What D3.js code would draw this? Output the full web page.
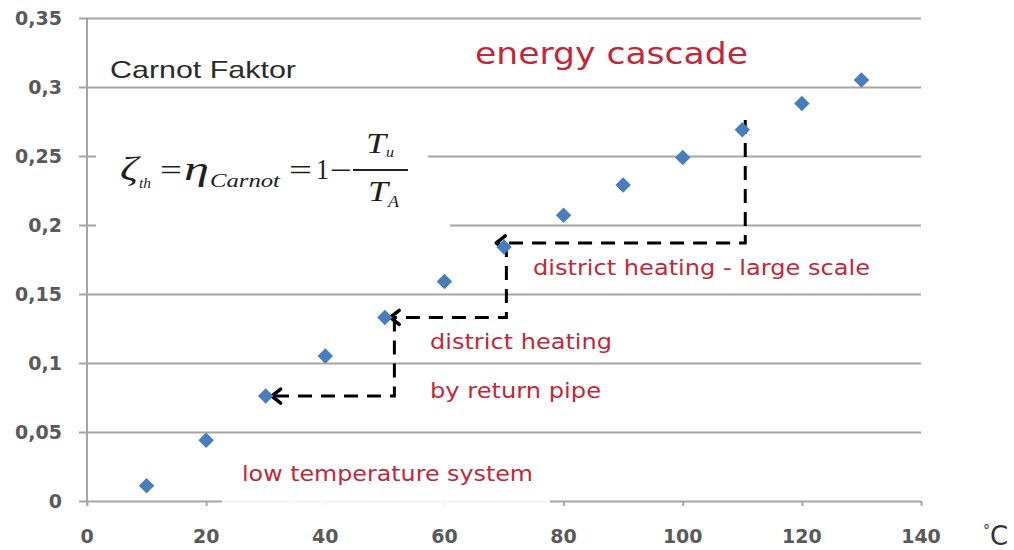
<!DOCTYPE html>
<html>
<head>
<meta charset="utf-8">
<script src="https://cdn.jsdelivr.net/npm/d3@7/dist/d3.min.js"></script>
<style>
  body { margin: 0; background: #fff; }
  svg { display: block; }
</style>
</head>
<body>
<div id="app"></div>
<script>
// ---- data ----
const temps  = [10, 20, 30, 40, 50, 60, 70, 80, 90, 100, 110, 120, 130];
const carnot = [0.011, 0.044, 0.076, 0.105, 0.133, 0.159, 0.184, 0.207, 0.229, 0.249, 0.269, 0.288, 0.305];

const xTicks = [0, 20, 40, 60, 80, 100, 120, 140];
const yTicks = [0, 0.05, 0.1, 0.15, 0.2, 0.25, 0.3, 0.35];

// cascade arrows: start -> corner -> arrow tip (data coordinates)
const cascadeSteps = [
  [[110.5, 0.276], [110.5, 0.187], [68.7, 0.187]],
  [[70.4, 0.187], [70.4, 0.133], [50.9, 0.133]],
  [[51.6, 0.133], [51.6, 0.076], [31.0, 0.076]]
];

const redLabels = [
  { text: 'district heating - large scale', x: 533, y: 275, w: 337 },
  { text: 'district heating', x: 430, y: 349, w: 182 },
  { text: 'by return pipe', x: 430, y: 398, w: 171 },
  { text: 'low temperature system', x: 242, y: 481, w: 291 }
];

// ---- layout ----
const W = 1014, H = 550;
const x = d3.scaleLinear().domain([0, 140]).range([87, 921]);
const y = d3.scaleLinear().domain([0, 0.35]).range([501, 18]);
const fmt = d => d3.format('~g')(d).replace('.', ',');

const svg = d3.select('#app').append('svg')
  .attr('width', W).attr('height', H)
  .style('font-family', 'DejaVu Sans, Verdana, sans-serif');

const gridColor = '#a6a6a6';
const red = '#c3283a';

// horizontal gridlines (y axis with full-width ticks)
svg.append('g')
  .attr('transform', `translate(${x(0)},0)`)
  .call(d3.axisLeft(y).tickValues(yTicks).tickFormat(''))
  .call(g => g.select('.domain').remove())
  .call(g => g.selectAll('line').attr('stroke', gridColor).attr('stroke-width', 2)
    .attr('x1', -8).attr('x2', x(140) - x(0)));

// vertical y axis line
svg.append('line')
  .attr('x1', x(0)).attr('x2', x(0)).attr('y1', y(0.35)).attr('y2', y(0) + 5)
  .attr('stroke', gridColor).attr('stroke-width', 2);

// x axis small ticks
svg.append('g')
  .attr('transform', `translate(0,${y(0)})`)
  .call(d3.axisBottom(x).tickValues(xTicks).tickSize(5).tickFormat(''))
  .call(g => g.select('.domain').remove())
  .call(g => g.selectAll('line').attr('stroke', gridColor).attr('stroke-width', 2));

// white text backgrounds that hide parts of the grid
svg.append('rect').attr('x', 96).attr('y', 120).attr('width', 332).attr('height', 80).attr('fill', '#fff');
svg.append('rect').attr('x', 96).attr('y', 200).attr('width', 354).attr('height', 40).attr('fill', '#fff');
svg.append('rect').attr('x', 222).attr('y', 445).attr('width', 328).attr('height', 70).attr('fill', '#fff').attr('opacity', 0.88);

// tick labels
svg.append('g').selectAll('text').data(yTicks).join('text')
  .attr('x', 62).attr('y', d => y(d) + 7)
  .attr('text-anchor', 'end')
  .attr('font-size', 19).attr('font-weight', 'bold')
  .attr('fill', '#5a5a5a')
  .text(fmt);

svg.append('g').selectAll('text').data(xTicks).join('text')
  .attr('x', d => x(d)).attr('y', 543)
  .attr('text-anchor', 'middle')
  .attr('font-size', 19).attr('font-weight', 'bold')
  .attr('fill', '#5a5a5a')
  .text(d => d);

svg.append('text').attr('x', 983).attr('y', 545).attr('fill', '#333')
  .call(t => t.append('tspan').attr('font-size', 14).attr('dy', -10).text('°'))
  .call(t => t.append('tspan').attr('font-size', 26).attr('dy', 10).text('C'));

// cascade dashed arrows
const line = d3.line().x(d => x(d[0])).y(d => y(d[1]));
svg.append('g').selectAll('path').data(cascadeSteps).join('path')
  .attr('d', d => line(d))
  .attr('fill', 'none').attr('stroke', '#000').attr('stroke-width', 3)
  .attr('stroke-dasharray', '14 9');

svg.append('g').selectAll('path').data(cascadeSteps).join('path')
  .attr('d', d => {
    const tx = x(d[2][0]), ty = y(d[2][1]);
    return `M${tx + 9},${ty - 7}L${tx},${ty}L${tx + 9},${ty + 7}`;
  })
  .attr('fill', 'none').attr('stroke', '#000').attr('stroke-width', 3.5)
  .attr('stroke-linecap', 'round').attr('stroke-linejoin', 'round');

// diamonds
svg.append('g').selectAll('path').data(temps).join('path')
  .attr('transform', (d, i) => `translate(${x(d)},${y(carnot[i])}) rotate(45)`)
  .attr('d', d3.symbol(d3.symbolSquare, 120))
  .attr('fill', '#4a7ebb');

// texts
svg.append('text').attr('x', 110).attr('y', 78)
  .attr('font-family', 'Liberation Sans, Arial, sans-serif')
  .attr('font-size', 24).attr('fill', '#2b2b2b')
  .attr('textLength', 186).attr('lengthAdjust', 'spacingAndGlyphs')
  .text('Carnot Faktor');

svg.append('text').attr('x', 475).attr('y', 64)
  .attr('font-size', 30).attr('fill', red)
  .attr('textLength', 273).attr('lengthAdjust', 'spacingAndGlyphs')
  .text('energy cascade');

svg.append('g').selectAll('text').data(redLabels).join('text')
  .attr('x', d => d.x).attr('y', d => d.y)
  .attr('font-size', 22).attr('fill', red)
  .attr('textLength', d => d.w).attr('lengthAdjust', 'spacingAndGlyphs')
  .text(d => d.text);

// formula  ζth = ηCarnot = 1 − Tu / TA
const formula = [
  { t: 'ζ', x: 120, y: 180, s: 34, w: 18, i: true },
  { t: 'th', x: 139, y: 188, s: 15, w: 12, i: true },
  { t: '=', x: 160, y: 180, s: 30, w: 22, i: false },
  { t: 'η', x: 184, y: 180, s: 34, w: 25, i: true },
  { t: 'Carnot', x: 210, y: 187, s: 19, w: 70, i: true },
  { t: '=', x: 289, y: 180, s: 30, w: 23, i: false },
  { t: '1', x: 316, y: 179, s: 30, w: 13, i: false },
  { t: '−', x: 330, y: 180, s: 30, w: 22, i: false },
  { t: 'T', x: 366, y: 153, s: 30, w: 20, i: true },
  { t: 'u', x: 386, y: 157, s: 15, w: 8, i: true },
  { t: 'T', x: 368, y: 201, s: 30, w: 20, i: true },
  { t: 'A', x: 388, y: 207, s: 17, w: 11, i: true }
];
const f = svg.append('g')
  .attr('font-family', 'Liberation Serif, Times New Roman, serif')
  .attr('fill', '#1f1f1f');
f.selectAll('text').data(formula).join('text')
  .attr('x', d => d.x).attr('y', d => d.y)
  .attr('font-size', d => d.s)
  .attr('font-style', d => d.i ? 'italic' : 'normal')
  .attr('textLength', d => d.w).attr('lengthAdjust', 'spacingAndGlyphs')
  .text(d => d.t);
f.append('line').attr('x1', 353).attr('x2', 408).attr('y1', 170).attr('y2', 170)
  .attr('stroke', '#1f1f1f').attr('stroke-width', 1.8);
</script>
</body>
</html>
